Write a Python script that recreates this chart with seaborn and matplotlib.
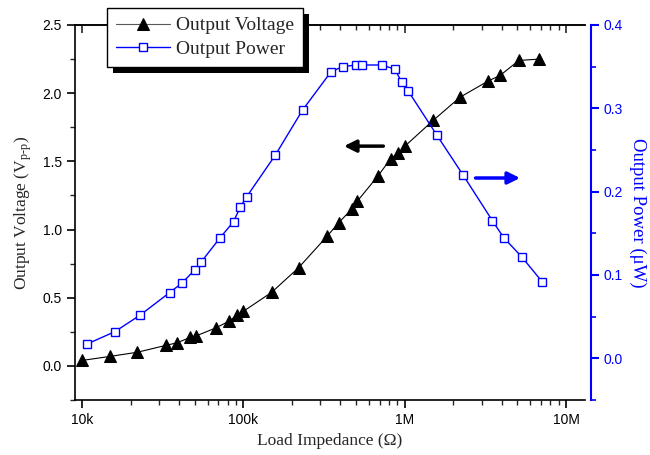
import numpy as np
import pandas as pd
import matplotlib
matplotlib.use("Agg")
import matplotlib.pyplot as plt
import matplotlib.patches as mpatches
from matplotlib.ticker import FixedLocator, FixedFormatter, MultipleLocator, LogLocator, NullFormatter
import seaborn as sns

# 数据: 负载电阻 (Ω) 与输出电压 / 输出功率
r_voltage = [10e3, 15e3, 22e3, 33e3, 39e3, 47e3, 51e3, 68e3, 82e3, 91e3, 100e3,
             150e3, 220e3, 330e3, 390e3, 470e3, 510e3, 680e3, 820e3, 910e3, 1e6,
             1.5e6, 2.2e6, 3.3e6, 3.9e6, 5.1e6, 6.8e6]
voltage = [0.04, 0.07, 0.10, 0.15, 0.17, 0.21, 0.22, 0.28, 0.33, 0.37, 0.40,
           0.54, 0.72, 0.95, 1.05, 1.15, 1.21, 1.39, 1.52, 1.56, 1.61,
           1.80, 1.97, 2.09, 2.13, 2.24, 2.25]

r_power = [10.7e3, 16e3, 23e3, 35e3, 41.5e3, 50e3, 55e3, 72e3, 87e3, 96e3, 105e3,
           158e3, 233e3, 350e3, 412e3, 500e3, 540e3, 720e3, 870e3, 960e3, 1.05e6,
           1.58e6, 2.3e6, 3.5e6, 4.1e6, 5.3e6, 7.1e6]
power = [0.017, 0.032, 0.052, 0.079, 0.090, 0.106, 0.116, 0.145, 0.164, 0.182, 0.194,
         0.244, 0.298, 0.344, 0.350, 0.352, 0.352, 0.352, 0.347, 0.331, 0.321,
         0.268, 0.220, 0.165, 0.145, 0.122, 0.092]

x_ticks = [1e4, 1e5, 1e6, 1e7]
x_tick_labels = ["10k", "100k", "1M", "10M"]

df_v = pd.DataFrame({"R": r_voltage, "V": voltage})
df_p = pd.DataFrame({"R": r_power, "P": power})

sns.set_style("ticks")
plt.rcParams["font.family"] = ["Liberation Sans", "DejaVu Sans"]
plt.rcParams["mathtext.fontset"] = "custom"
plt.rcParams["mathtext.rm"] = "Liberation Serif"
plt.rcParams["mathtext.it"] = "Liberation Serif:italic"
serif = ["Liberation Serif", "DejaVu Serif"]
blue = "#0000ff"

fig = plt.figure(figsize=(6.5, 4.55), dpi=100)
ax = fig.add_axes([75 / 650, 55 / 455, 510 / 650, 375 / 455])
ax2 = ax.twinx()

sns.lineplot(data=df_v, x="R", y="V", ax=ax, color="black", lw=0.8,
             marker="^", markersize=9, markeredgecolor="black",
             label="Output Voltage", legend=False)
sns.lineplot(data=df_p, x="R", y="P", ax=ax2, color=blue, lw=1.0,
             marker="s", markersize=6, markerfacecolor="white",
             markeredgecolor=blue, markeredgewidth=1.0,
             label="Output Power", legend=False)

ax.set_xscale("log")
ax.set_xlim(9.06e3, 1.31e7)
ax.set_ylim(-0.25, 2.5)
ax2.set_ylim(-0.05, 0.4)

ax.xaxis.set_major_locator(FixedLocator(x_ticks))
ax.xaxis.set_major_formatter(FixedFormatter(x_tick_labels))
ax.xaxis.set_minor_locator(LogLocator(base=10, subs=np.arange(2, 10)))
ax.xaxis.set_minor_formatter(NullFormatter())
ax.yaxis.set_major_locator(MultipleLocator(0.5))
ax.yaxis.set_minor_locator(MultipleLocator(0.25))
ax.yaxis.set_major_formatter(matplotlib.ticker.FormatStrFormatter("%.1f"))
ax2.yaxis.set_major_locator(MultipleLocator(0.1))
ax2.yaxis.set_minor_locator(MultipleLocator(0.05))
ax2.yaxis.set_major_formatter(matplotlib.ticker.FormatStrFormatter("%.1f"))

for s in ["left", "bottom", "top"]:
    ax.spines[s].set_linewidth(1.2)
    ax.spines[s].set_color("black")
ax.spines["right"].set_visible(False)
for s in ["left", "bottom", "top"]:
    ax2.spines[s].set_visible(False)
ax2.spines["right"].set_position(("outward", 4))
ax2.spines["right"].set_color(blue)
ax2.spines["right"].set_linewidth(1.5)

ax.tick_params(axis="both", which="major", direction="out", length=6, width=1.2,
               labelsize=10, colors="black", right=False)
ax.tick_params(axis="both", which="minor", direction="out", length=3.5, width=1.0,
               right=False)
ax2.tick_params(axis="y", which="major", direction="out", length=6, width=1.5,
                colors=blue, labelsize=10)
ax2.tick_params(axis="y", which="minor", direction="out", length=3.5, width=1.2,
                colors=blue)

# 上边框的向内刻度
top = ax.secondary_xaxis("top")
top.set_xticks(x_ticks)
top.xaxis.set_minor_locator(LogLocator(base=10, subs=np.arange(2, 10)))
top.xaxis.set_major_formatter(NullFormatter())
top.xaxis.set_minor_formatter(NullFormatter())
top.tick_params(which="major", direction="in", length=6, width=1.2)
top.tick_params(which="minor", direction="in", length=3.5, width=1.0)
top.spines["top"].set_linewidth(1.2)

ax.set_xlabel("Load Impedance (Ω)", family=serif, fontsize=12.5)
ax.set_ylabel("Output Voltage (V$_{\\mathrm{p}\\text{-}\\mathrm{p}}$)", family=serif,
              fontsize=12.5, labelpad=6)
ax2.set_ylabel("Output Power (μW)", family=serif, fontsize=13.5, color=blue,
               rotation=270, labelpad=17)

# 方向箭头
ax.annotate("", xy=(0.522, 0.677), xytext=(0.61, 0.677), xycoords="axes fraction",
            arrowprops=dict(arrowstyle="-|>", color="black", lw=2.5, mutation_scale=18))
ax.annotate("", xy=(0.878, 0.592), xytext=(0.78, 0.592), xycoords="axes fraction",
            arrowprops=dict(arrowstyle="-|>", color=blue, lw=2.5, mutation_scale=18))

h1, l1 = ax.get_legend_handles_labels()
h2, l2 = ax2.get_legend_handles_labels()
leg = ax2.legend(h1 + h2, l1 + l2, loc="upper left", bbox_to_anchor=(107 / 650, 1 - 8 / 455),
                 bbox_transform=fig.transFigure, borderaxespad=0, fancybox=False,
                 framealpha=1, edgecolor="black", handlelength=2.8,
                 prop={"family": serif, "size": 14}, labelspacing=0.3,
                 handletextpad=0.3, borderpad=0.45)
leg.get_frame().set_linewidth(1.0)
leg.set_zorder(20)
leg.get_lines()[0].set_color("0.35")
leg.get_lines()[0].set_markerfacecolor("black")
leg.get_lines()[0].set_markeredgecolor("black")

# 图例阴影
fig.canvas.draw()
bb = leg.get_window_extent()
shadow = mpatches.Rectangle((bb.x0 + 6, bb.y0 - 6), bb.width, bb.height, transform=None,
                            facecolor="black", edgecolor="none", zorder=19)
fig.patches.append(shadow)
leg.remove()
fig.legends.append(leg)
leg.set_figure(fig)

fig.savefig("out.png", dpi=100)
